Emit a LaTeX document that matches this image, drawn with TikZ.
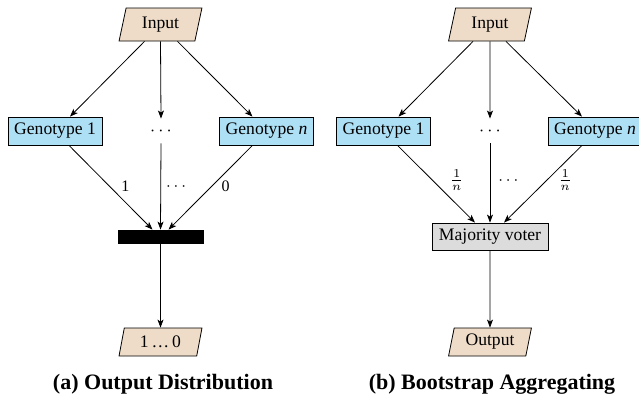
\documentclass[tikz,border=0pt]{standalone}
\usepackage{fontspec}
\setmainfont{Liberation Serif}
\usetikzlibrary{shapes.geometric,arrows.meta}
\definecolor{tan}{HTML}{EEDCC8}
\definecolor{geno}{HTML}{ADDFF5}
\definecolor{voter}{HTML}{DCDCDC}
\begin{document}
\begin{tikzpicture}[x=0.5pt,y=-0.5pt,
  every node/.style={font=\fontsize{8.8}{10}\selectfont, inner sep=0pt},
  io/.style={trapezium, trapezium left angle=76, trapezium right angle=104, trapezium stretches=true, draw, fill=tan, line width=0.4pt, minimum width=41.5pt},
  genobox/.style={draw, fill=geno, minimum width=47pt, minimum height=14pt, line width=0.4pt},
  votebox/.style={draw, fill=voter, minimum width=58pt, minimum height=13.5pt, line width=0.4pt},
  barbox/.style={draw, fill=black, minimum width=42.5pt, minimum height=6.5pt},
  arr/.style={-{Stealth[length=4pt,width=3pt,inset=1pt]}, line width=0.4pt},
  lab/.style={font=\fontsize{8}{9}\selectfont},
  captext/.style={font=\fontsize{11}{12}\selectfont\bfseries}
]
\useasboundingbox (0,0) rectangle (639,398);
% ---------- (a) ----------
\node[io, minimum height=16.5pt] (inA) at (160.5,24.5) {Input};
\node[genobox] (g1A) at (55,131) {Genotype 1};
\node (dA) at (161,131) {$\cdots$};
\node[genobox] (gnA) at (266.5,131) {Genotype \textit{n}};
\node[barbox] (bar) at (160.5,236.5) {};
\node[io, minimum height=14pt] (outA) at (160.5,342) {1\,\ldots\,0};
\node[captext] (capA) at (163,384) {(a) Output Distribution};

\draw[arr] ([xshift=-8pt]inA.south) -- ([xshift=7.5pt]g1A.north);
\draw[arr] (inA.south) -- ([yshift=4pt]dA.north);
\draw[arr] ([xshift=8.5pt]inA.south) -- ([xshift=-7pt]gnA.north);
\draw[arr] ([xshift=7pt]g1A.south) -- node[lab, pos=0.49, right=5.5pt] {1} ([xshift=-4pt]bar.north);
\draw[arr] ([yshift=-4pt]dA.south) -- node[lab, pos=0.5, right=2.5pt] {$\cdots$} (bar.north);
\draw[arr] ([xshift=-7pt]gnA.south) -- node[lab, pos=0.49, right=5pt] {0} ([xshift=4pt]bar.north);
\draw[arr] (bar.south) -- (outA.north);

% ---------- (b) ----------
\node[io, minimum height=16.5pt] (inB) at (490,24.5) {Input};
\node[genobox] (g1B) at (383.5,131) {Genotype 1};
\node (dB) at (490,131) {$\cdots$};
\node[genobox] (gnB) at (595,131) {Genotype \textit{n}};
\node[votebox] (vote) at (490,236.5) {Majority voter};
\node[io, minimum height=14pt] (outB) at (490,342) {Output};
\node[captext] (capB) at (492,384) {(b) Bootstrap Aggregating};

\draw[arr] ([xshift=-8.5pt]inB.south) -- ([xshift=7.5pt]g1B.north);
\draw[arr] (inB.south) -- ([yshift=4pt]dB.north);
\draw[arr] ([xshift=8pt]inB.south) -- ([xshift=-6.5pt]gnB.north);
\draw[arr] ([xshift=7pt]g1B.south) -- node[lab, pos=0.45, right=8.5pt] {$\frac{1}{n}$} ([xshift=-7.5pt]vote.north);
\draw[arr] ([yshift=-4pt]dB.south) -- node[lab, pos=0.47, right=4pt] {$\cdots$} (vote.north);
\draw[arr] ([xshift=-6.5pt]gnB.south) -- node[lab, pos=0.45, right=5.5pt] {$\frac{1}{n}$} ([xshift=7pt]vote.north);
\draw[arr] (vote.south) -- (outB.north);
\end{tikzpicture}
\end{document}
